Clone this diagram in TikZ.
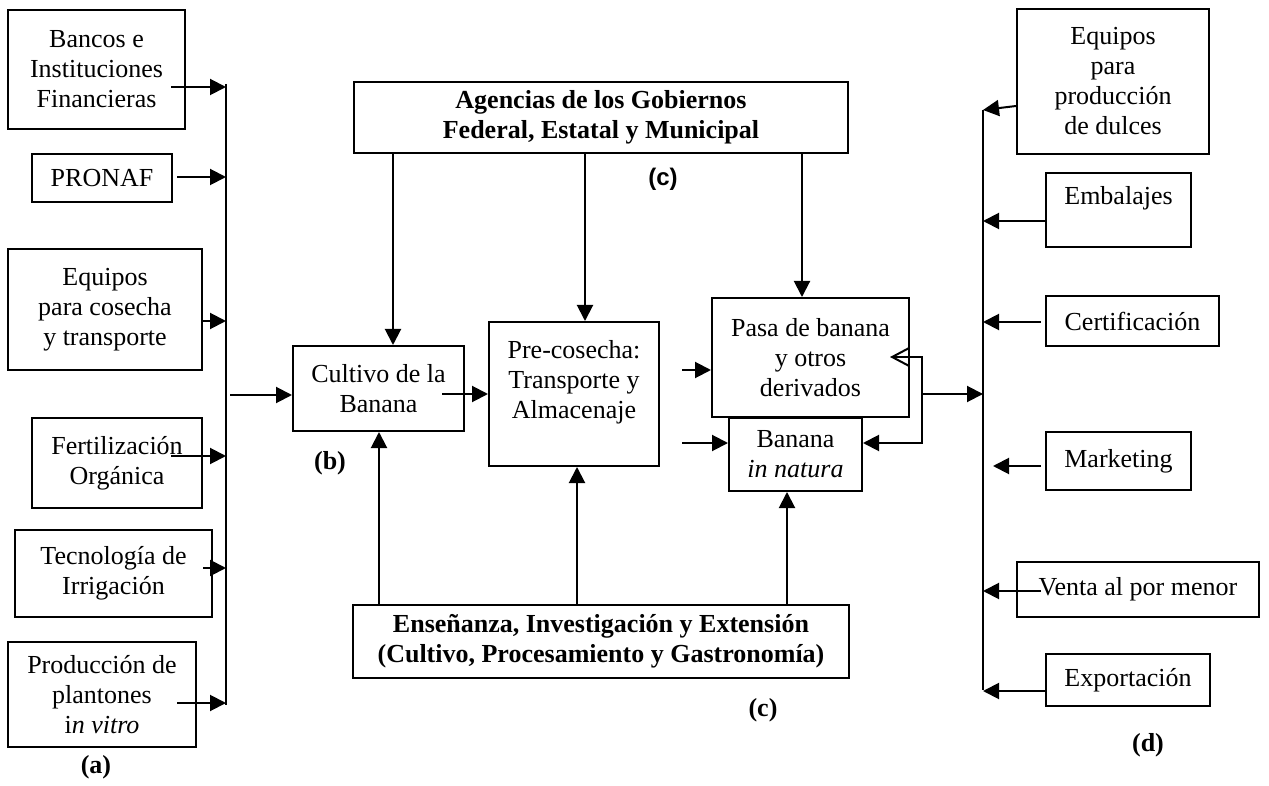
\documentclass[tikz,border=0pt]{standalone}
\usepackage{fontspec}
\setmainfont{Liberation Serif}
\newfontfamily\arialfont{Liberation Sans}
\usetikzlibrary{arrows.meta}

\begin{document}
\begin{tikzpicture}[x=0.5pt, y=-0.5pt, line width=1pt,
		every node/.style={font=\fontsize{13}{15}\selectfont, align=center},
		caja/.style 2 args={draw, inner sep=0pt, minimum width=#1*0.5pt, minimum height=#2*0.5pt},
		negrita/.style={font=\fontsize{13}{15}\selectfont\bfseries},
		flecha/.style={-{Triangle[length=8pt,width=8pt]}}]
		\useasboundingbox (0,0) rectangle (1269,786);
		% Insumos (a)
		\node[caja={177}{119}] (bancos) at (96.5,69.5) {Bancos e\\Instituciones\\Financieras};
		\node[caja={140}{48}] (pronaf) at (102,178) {PRONAF};
		\node[caja={194}{121}] (cosecha) at (105,309.5) {Equipos\\para cosecha\\y transporte};
		\node[caja={170}{90}] (fert) at (117,463) {Fertilización\\Orgánica};
		\node[caja={197}{87}] (irrig) at (113.5,573.5) {Tecnología de\\Irrigación};
		\node[caja={188}{105}] (plantones) at (102,694.5) {Producción de\\plantones\\i\textit{n vitro}};
		\node[negrita] (a) at (96,767) {(a)};
		\coordinate (busA1) at (226,84);
		\coordinate (busA2) at (226,705);
		\draw (busA1) -- (busA2);
		\foreach \caja/\dx/\ya in {bancos/-15/87, pronaf/4/177, cosecha/0/321, fert/-32/456, irrig/-10/568, plantones/-20/703}
		{
			\draw[flecha] (\caja.east |- 0,\ya) ++(\dx,0) -- (busA1 |- 0,\ya);
		}
		
		% Cadena central (b), (c)
		\node[caja={494}{71}, negrita] (agencias) at (601,117.5) {Agencias de los Gobiernos\\Federal, Estatal y Municipal};
		\node[font=\arialfont\fontsize{12}{14}\selectfont\bfseries] (c1) at (663,179) {(c)};
		\node[caja={171}{85}] (cultivo) at (378.5,388.5) {Cultivo de la\\Banana};
		\node[caja={170}{144}] (precosecha) at (574,394) {Pre-cosecha:\\Transporte y\\Almacenaje\\\mbox{}};
		\node[caja={197}{119}] (pasa) at (810.5,357.5) {Pasa de banana\\y otros\\derivados};
		\node[caja={133}{73}] (banana) at (795.5,454.5) {Banana\\\textit{in natura}};
		\node[negrita] (b) at (330,463) {(b)};
		\node[caja={496}{73}, negrita] (ensenanza) at (601,641.5) {Enseñanza, Investigación y Extensión\\(Cultivo, Procesamiento y Gastronomía)};
		\node[negrita] (c2) at (763,710) {(c)};
		
		\coordinate (salidaA) at (230,395);
		\draw[flecha] (salidaA) -- (cultivo.west |- salidaA);
		\draw[flecha] (cultivo.east |- 0,394) ++(-23,0) -- (precosecha.west |- 0,394);
		\draw[flecha] (precosecha.east |- 0,370) ++(22,0) -- (pasa.west |- 0,370);
		\draw[flecha] (precosecha.east |- 0,443) ++(22,0) -- (banana.west |- 0,443);
		\foreach \xa/\destino in {393/cultivo, 585/precosecha, 802/pasa}
		{
			\draw[flecha] (agencias.south -| \xa,0) -- (\destino.north -| \xa,0);
		}
		\foreach \xa/\destino in {379/cultivo, 577/precosecha, 787/banana}
		{
			\draw[flecha] (ensenanza.north -| \xa,0) -- (\destino.south -| \xa,0);
		}
		
		% retorno y salida
		\coordinate (retorno) at (922,394);
		\coordinate (entrada) at (890,357);
		\draw[-{Straight Barb[length=8.5pt,width=9pt]}] (retorno) |- (entrada);
		\draw[flecha] (retorno) |- (banana.east |- 0,443);
		
		% Mercado (d)
		\coordinate (busD1) at (983,110);
		\coordinate (busD2) at (983,690);
		\draw (busD1) -- (busD2);
		\draw[flecha] (retorno) -- (busD1 |- retorno);
		\node[caja={192}{145}] (dulces) at (1113,81.5) {Equipos\\para\\producción\\de dulces};
		\node[caja={145}{74}] (embalajes) at (1118.5,210) {Embalajes\\\mbox{}};
		\node[caja={173}{50}] (certif) at (1132.5,321) {Certificación};
		\node[caja={145}{58}] (marketing) at (1118.5,461) {Marketing};
		\node[caja={242}{55}] (venta) at (1138,589.5) {Venta al por menor};
		\node[caja={164}{52}] (export) at (1128,680) {Exportación};
		\node[negrita] (d) at (1148,745) {(d)};
		\coordinate (mkt) at (993,466);
		\draw[flecha] (dulces.west |- 0,106) -- (busD1);
		\draw[flecha] (embalajes.west |- 0,221) -- (busD1 |- 0,221);
		\draw[flecha] (certif.west |- 0,322) ++(-4,0) -- (busD1 |- 0,322);
		\draw[flecha] (marketing.west |- 0,466) ++(-4,0) -- (mkt);
		\draw[flecha] (venta.west |- 0,591) ++(25,0) -- (busD1 |- 0,591);
		\draw[flecha] (export.west |- 0,691) -- (busD1 |- 0,691);
\end{tikzpicture}
\end{document}
